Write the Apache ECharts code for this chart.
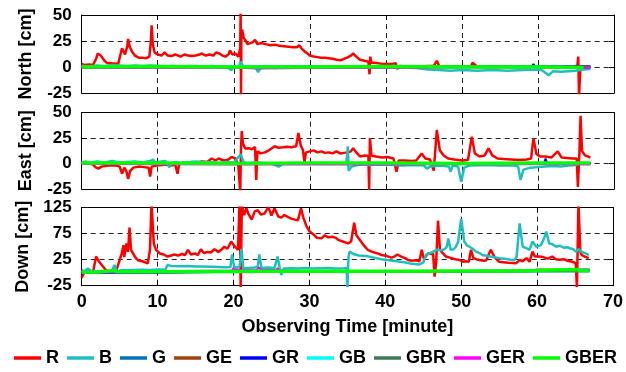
<!DOCTYPE html>
<html><head><meta charset="utf-8">
<script src="https://cdn.jsdelivr.net/npm/echarts@6/dist/echarts.min.js"></script>
<style>html,body{margin:0;padding:0;background:#fff}#c{width:626px;height:372px}</style>
</head><body><div id="c"></div>
<script>
// ---------- DATA ----------
const seriesNames = ['R','B','G','GE','GR','GB','GBR','GER','GBER'];
const xRange = [0, 70, 10];
const panelNames = ['North [cm]', 'East [cm]', 'Down [cm]'];
const yRanges = [[-25, 50, 25], [-25, 50, 25], [-25, 125, 50]];

// North
const N_R = [[0,3],[0.3,2],[1.0,2.5],[1.5,2],[1.9,8],[2.1,13],[2.5,11],[3.0,6],[3.3,4],[4.0,3.5],[4.8,3],[5.1,12],[5.3,18],[5.5,19],[5.7,12],[6.0,20],[6.1,27],[6.3,20],[6.6,15],[7.0,11],[7.5,9],[8.0,9],[8.5,8.5],[8.9,10],[9.1,25],[9.2,40],[9.35,22],[9.6,14],[10.0,12],[10.5,11],[10.9,14],[11.3,11],[11.8,10.5],[12.3,12],[12.7,11],[13.0,10],[13.5,12],[14.0,11],[14.5,10.5],[15.0,11],[15.5,12],[15.8,13],[16.3,11],[16.8,12],[17.3,11],[17.7,14],[18.1,13],[18.5,11],[18.9,10],[19.3,12],[19.5,16],[19.8,12],[20.2,13],[20.6,10],[20.85,18],[20.9,55],[20.95,-30],[21.0,30],[21.1,36],[21.3,28],[21.5,26],[21.8,22],[22.2,23],[22.5,24],[22.8,26],[23.1,22],[23.6,23],[24.2,22],[24.8,21],[25.4,21.5],[26.0,20.5],[26.6,20],[27.2,19.5],[27.8,19],[28.3,19],[28.6,21],[28.9,18],[29.3,15],[29.7,13],[30.0,11],[30.5,10],[31.0,9.5],[31.5,9],[32.0,9],[32.5,8.5],[33.0,8],[33.5,7],[34.0,6.5],[34.4,7.5],[34.9,9],[35.4,11],[35.7,13],[36.1,10],[36.6,7],[37.2,6],[37.7,5],[37.85,-7],[37.95,10],[38.1,4],[38.5,4],[39.0,3.5],[39.6,3],[40.2,3],[40.8,3],[41.3,3.5],[41.5,-2],[41.8,1],[42.5,0.5],[43.5,0],[44.5,0.5],[45.5,1],[46.3,1],[46.7,6],[47.0,1],[47.5,0.5],[48.5,0],[49.5,0],[50.5,0.5],[51.2,1],[51.4,4],[52,0.5],[53,0],[54,0],[55,0.5],[56,0],[57,0],[58,0],[59,0.5],[59.4,1],[60,0],[61,0],[62,0],[63,0],[64,0],[64.8,0],[65.2,2],[65.3,10],[65.4,-28],[65.6,1],[66,0.5],[66.5,0],[66.9,0]];
const N_B = [[0,1],[1,0.5],[2,1.5],[3,1],[4,2],[5,1.5],[6,1],[7,1.5],[8,1],[9,1.5],[10,1],[11,0.5],[12,1],[13,0.5],[14,1],[15,1],[16,0.5],[17,1],[18,0.5],[19,0.5],[19.7,-3],[20,0.5],[20.7,1],[20.9,5],[21.2,1],[22,0],[22.8,0.5],[23.2,-5],[23.6,0],[24.5,0.5],[25.5,-1],[26.5,0],[28,0.5],[30,0],[32,0.5],[34,0],[36,0.5],[38,0],[40,0.5],[42,-0.5],[44,-1],[45.5,-2.5],[47,-3],[48.5,-3.5],[50,-3],[52,-3.5],[54,-3],[56,-3.5],[58,-3],[59.5,-2.5],[60.5,-3],[61.4,-8],[62,-4],[63,-4.5],[64,-4],[65,-3.5],[66,-2.5],[66.9,-2]];
const N_G = [[0,-0.5],[5,0],[10,-0.5],[15,0],[20,-0.5],[21,0.5],[25,-0.5],[30,0],[35,-0.5],[40,0],[45,0.5],[50,0],[55,0.5],[59.4,1],[60,0.5],[65,0.5],[66.9,0]];
const N_GE = [[0,0.5],[10,0],[20,0.5],[30,0],[40,0],[50,0.5],[60,0.5],[66.9,0.5]];
const N_GR = [[0,0],[10,0.5],[20,0],[30,0.5],[40,0],[50,0.5],[59.2,0.5],[59.4,3],[59.6,0.5],[66.9,0.5]];
const N_GB = [[0,1],[10,0.5],[20,1],[30,0.5],[40,1],[50,0.5],[60,0.5],[66.9,0]];
const N_GBR = [[0,0.5],[20,0],[40,0.5],[66.9,0]];
const N_GER = [[0,-1],[10,-1],[20,-0.5],[23,-1.5],[30,-1],[40,-1],[50,-0.5],[60,-0.5],[66.9,-1]];
const N_GBER = [[0,0],[10,0.5],[20,0],[30,0],[40,0.5],[50,0],[60,0],[66,-0.5]];

// East
const E_R = [[0,0],[1.0,0],[1.5,-1],[1.8,-3.5],[2.2,-5],[2.6,-3],[3.5,-2],[4.5,-2],[5.0,-3],[5.3,-10],[5.6,-4],[5.9,-8],[6.1,-15],[6.4,-7],[6.8,-4],[7.5,-3],[8.2,-3.5],[8.8,-4],[9.0,-12.7],[9.2,-3],[9.8,-2],[10.5,-1.5],[11.2,-1],[11.8,-2],[12.3,-1],[12.6,-10],[12.8,-1],[13.3,1],[14,0.5],[14.5,1.5],[15.2,1],[15.8,2],[16.5,1.5],[17.1,5],[17.6,3],[18.0,5],[18.5,3.5],[18.9,3],[19.3,4],[19.7,6.5],[20.2,5],[20.6,-2],[20.85,-28],[20.95,15],[21.05,32],[21.2,20],[21.5,14.7],[22.0,15],[22.4,14],[22.8,16.3],[22.95,-16],[23.1,12],[23.5,10],[24.1,11],[24.6,13],[25.0,15],[25.4,17],[25.9,15.5],[26.5,16],[27.0,16.5],[27.6,16],[28.2,17],[28.5,30],[28.8,18],[29.1,13],[29.3,1.5],[29.5,11],[30.0,12],[30.5,13],[31.0,11],[31.5,12],[32,10.5],[32.5,11],[33,10],[33.5,12],[34,10],[34.5,10.5],[35.0,11],[35.4,12],[35.7,15],[36.1,11],[36.6,7],[37.2,8],[37.7,7.5],[37.8,-26],[37.9,25],[38.1,8],[38.7,7],[39.5,6],[40.2,6.5],[41.0,5],[41.4,-8],[41.7,3],[42.5,3],[43.3,2.5],[44.0,3],[44.7,10],[45.2,5],[45.8,4],[46.3,-7],[46.7,33],[47.1,13],[47.6,8],[48.2,5],[49,4],[50,3],[50.8,3.5],[51.3,26.5],[51.7,10],[52.3,7],[53,8],[53.5,15],[54,8],[54.7,5],[55.5,4.5],[56.5,4],[57.5,3.5],[58.5,4],[59.1,5],[59.4,25],[59.8,9.5],[60.3,7],[61,7],[61.8,6],[62.6,12],[63.1,6],[63.8,5.5],[64.5,5],[65.1,5],[65.25,-23],[65.45,10],[65.6,47],[65.8,12],[66.2,8],[66.9,6]];
const E_B = [[0,1],[0.5,2],[1,0.5],[2,2],[3,1],[4,2.5],[5,1],[6,1.5],[7,2],[8,1],[9,2.5],[9.4,4],[9.6,0.5],[10,1.5],[11,2.5],[11.5,-3.5],[12,1],[13,0.5],[14,1],[15,2],[16,1],[17,1.5],[18,0.5],[19,1.5],[20,1],[20.9,9],[21.3,1],[22,0.5],[23,1],[24,0.5],[25,0],[25.9,-3],[26.5,0],[28,0.5],[30,0],[32,0.5],[34,0],[34.8,0],[35.0,17],[35.1,-7],[35.5,-3],[36.5,-1],[38,-1.5],[40,-1],[42,-2],[44,-1.5],[45.0,-2],[45.4,-5],[45.8,-3],[47,-2],[48.3,-3],[48.5,-8],[48.8,-2],[49.5,-3],[49.9,-18],[50.3,-4],[51,-2],[53,-1.5],[55,-2],[57,-2],[57.4,-3],[57.7,-16],[58.1,-6],[59,-4],[60,-3.5],[61,-3],[62,-2.5],[63,-3],[64,-2],[65,-1.5],[65.4,0],[66.9,0]];
const E_G = [[0,0.5],[10,0],[20,0.5],[30,0],[40,0.5],[50,0],[60,0.5],[66.9,0]];
const E_GE = [[0,0],[20,0.5],[40,0],[60,0.5],[66.9,0.5]];
const E_GR = [[0,0],[20,0],[40,0.5],[60.8,0.5],[61,5],[61.2,0.5],[66.9,0.5]];
const E_GB = [[0,1],[20,0.5],[40,0.5],[66.9,0]];
const E_GBR = [[0,0.5],[30,0],[66.9,0]];
const E_GER = [[0,-0.5],[20,-1],[40,-1],[60,-0.5],[66.9,-1]];
const E_GBER = [[0,0.5],[10,0.5],[20,0],[30,0.5],[40,0.5],[50,0],[60,0.5],[66.9,0.5]];

// Down
const D_R = [[0,-10],[0.15,-5],[0.4,2],[1.0,1],[1.5,2],[1.9,31],[2.3,21],[2.8,12],[3.2,5],[3.6,2],[4.5,2],[5.0,24],[5.3,38],[5.5,53],[5.6,30],[5.9,56],[6.1,40],[6.3,87],[6.5,44],[7.0,31],[7.4,24],[8.0,22],[8.7,18],[9.0,44],[9.2,135],[9.5,56],[9.8,44],[10.3,37],[10.8,35],[11.3,31],[11.8,33],[12.2,35],[12.7,33],[13.2,36],[13.6,34],[14.0,44],[14.4,35],[14.9,37],[15.3,34],[15.7,45],[16.1,38],[16.6,40],[17.0,39],[17.5,45],[18.0,40],[18.4,44],[18.8,50],[19.2,46],[19.7,60],[20.1,51.5],[20.6,44],[20.8,135],[20.95,-30],[21.1,130],[21.4,111],[21.7,124],[22.0,112],[22.4,102],[22.8,118],[23.2,120],[23.6,112],[24.1,114],[24.6,126],[25.0,110],[25.4,124],[25.9,108],[26.3,106],[26.7,111],[27.2,107],[27.6,104],[28.1,102],[28.5,101],[28.9,124],[29.2,106],[29.6,90],[30.0,80],[30.5,74],[31.0,67],[31.6,66],[32.0,72],[32.5,68],[33.0,69],[33.5,67],[33.8,63],[34.4,60],[35.1,56.5],[35.5,60],[35.9,96],[36.2,72],[36.8,60],[37.2,52],[37.7,44],[38.3,40],[39.0,37],[39.5,34],[40.2,32],[40.8,29],[41.2,31],[41.6,35],[42.1,31],[42.6,28],[43.0,24.5],[43.5,23],[44.0,24],[44.5,22],[44.8,44],[45.1,26],[45.6,37],[46.0,36],[46.3,37],[46.5,-7.6],[46.7,20],[46.95,100],[47.2,45],[47.4,40.5],[48.0,31],[48.5,29],[49.2,26],[49.8,24.5],[50.2,21],[50.6,22],[51.0,21],[51.3,44],[51.6,28],[52.0,26],[52.4,24.5],[53.0,23],[53.3,24],[53.9,44],[54.4,30],[55.0,21],[55.6,20],[56.2,19],[56.8,18.5],[57.2,18],[57.7,24.5],[58.1,22],[58.6,28],[59.0,21],[59.4,40.5],[59.7,31],[60.3,31],[60.8,30],[61.4,27],[62.0,31],[62.5,26],[63.0,25],[63.5,26],[64.0,23],[64.7,21],[65.1,18],[65.25,-30],[65.45,135],[65.7,40],[65.9,34],[66.3,31],[66.8,28]];
const D_B = [[0,5],[0.4,3],[0.8,8],[1.2,4],[2,2.5],[3,3],[4,3],[4.3,15],[4.6,2],[5.2,5],[6,4.5],[7,5],[8,5.5],[9,5],[10,6],[11,5.5],[11.3,15],[11.8,13],[13,12.5],[14,13],[15,12],[16,12],[17,11.5],[18,11],[19,10.5],[19.6,11],[19.8,35],[20.1,11],[20.4,10],[20.8,12],[21.05,46],[21.3,8],[22,9],[22.8,10],[23.2,12],[23.4,35],[23.7,9],[24.5,10],[25.4,9],[25.8,31],[26.1,9],[26.3,-4.5],[26.6,8],[27.5,8.5],[28.5,8],[29.5,9],[30.5,8],[31.5,8.5],[32.5,9],[33.5,8],[34.5,8.5],[34.9,9],[35.0,-30],[35.15,30],[35.3,40.5],[35.8,36],[36.5,33],[37.5,32],[38.5,29],[39.5,26],[40.5,24],[41.5,22],[42.5,20],[43.5,17],[44.5,16],[45.0,20],[45.4,35],[45.8,37],[46.3,40],[46.7,44],[47.3,43],[47.8,45],[48.1,50],[48.3,66],[48.6,44],[49.0,45],[49.3,50],[49.6,60],[50.0,104],[50.4,60],[50.8,52],[51.1,50],[51.6,45],[52.0,40],[52.4,38],[52.8,34],[53.5,32],[54.2,30],[55.0,28],[55.8,27],[56.5,25],[57.0,24.5],[57.3,30],[57.7,95],[58.1,50],[58.6,47],[59.0,44],[59.4,60],[59.9,50],[60.5,53],[60.9,65],[61.2,79],[61.6,56],[62.0,55],[62.5,50],[63.0,52],[63.5,48],[64.0,49],[64.3,47],[64.8,45],[65.1,40.5],[65.5,45],[65.9,40],[66.4,37],[66.8,34]];
const D_G = [[0,1],[10,2],[20.3,2],[20.5,7],[20.7,2],[30,2],[40,2],[50,2],[60,3],[66.9,3]];
const D_GE = [[0,1],[30,2],[59,3],[60,6],[66.9,5]];
const D_GR = [[0,0],[10.4,0],[10.6,-2],[10.8,0],[20,2],[30,2],[60,4],[66.9,6]];
const D_GB = [[0,2],[30,2.5],[66.9,3]];
const D_GBR = [[0,1],[30,2],[66.9,3]];
const D_GER = [[0,2],[10,3],[19.8,4],[20,9],[20.3,4.5],[23,5],[23.4,10],[23.7,5],[25.6,5],[25.8,9],[26,4],[30,3],[40,3],[50,3],[60,4],[61,5],[66.9,5]];
const D_GBER = [[0,1],[2,1.5],[4.3,4],[4.6,2],[10,2],[19.9,2.5],[20.0,6],[20.3,2.5],[23.3,3],[23.4,6],[23.6,3],[25.7,3],[25.8,6],[26,3],[30,3],[40,3],[50,3.5],[55,3.5],[60,4],[61,4.5],[65.3,6],[65.6,4],[66.9,4]];

const panelData = [
  [N_R, N_B, N_G, N_GE, N_GR, N_GB, N_GBR, N_GER, N_GBER],
  [E_R, E_B, E_G, E_GE, E_GR, E_GB, E_GBR, E_GER, E_GBER],
  [D_R, D_B, D_G, D_GE, D_GR, D_GB, D_GBR, D_GER, D_GBER]
];

// ---------- STYLE ----------
const colors = ['#ff0000','#1fbfbf','#0072bd','#a2420d','#0000ff','#00ffff','#3c7a5a','#ff00ff','#00ff00'];
const widths = [2.5, 2.5, 2, 2, 2, 2, 2, 2, 3.5];
const FONT = "'Liberation Sans', Arial, sans-serif";
const gridBoxes = [{top:15, height:78}, {top:112.7, height:76.3}, {top:207.7, height:78}];
const gridLeft = 81.7, gridWidth = 532.3;

const grid = [], xAxis = [], yAxis = [], series = [];
const dash = {show:true, lineStyle:{color:'#222', type:[5,4], width:1}};
const axLine = {show:true, onZero:false, lineStyle:{color:'#000', width:1}};
const tick = {show:true, inside:true, length:5, lineStyle:{color:'#000'}};

gridBoxes.forEach((g, i) => {
  grid.push({left:gridLeft, top:g.top, width:gridWidth, height:g.height, containLabel:false});
  const last = i === 2;
  xAxis.push({
    gridIndex:i, type:'value', min:xRange[0], max:xRange[1], interval:xRange[2],
    axisLine:axLine, axisTick:tick, splitLine:dash,
    axisLabel:{show:last, color:'#000', fontWeight:'bold', fontSize:18, fontFamily:FONT, margin:7},
    name: last ? 'Observing Time [minute]' : '', nameLocation:'middle', nameGap:32,
    nameTextStyle:{color:'#000', fontWeight:'bold', fontSize:18, fontFamily:FONT}
  });
  xAxis.push({
    gridIndex:i, type:'value', position:'top', min:xRange[0], max:xRange[1], interval:xRange[2],
    axisLine:axLine, axisTick:tick, splitLine:{show:false}, axisLabel:{show:false}
  });
  const yr = yRanges[i];
  yAxis.push({
    gridIndex:i, type:'value', min:yr[0], max:yr[1], interval:yr[2],
    axisLine:axLine, axisTick:tick, splitLine:dash,
    axisLabel:{color:'#000', fontWeight:'bold', fontSize:17, fontFamily:FONT, margin:10},
    name:panelNames[i], nameLocation:'middle', nameGap:47, nameRotate:90,
    nameTextStyle:{color:'#000', fontWeight:'bold', fontSize:18, fontFamily:FONT}
  });
  yAxis.push({
    gridIndex:i, type:'value', position:'right', min:yr[0], max:yr[1], interval:yr[2],
    axisLine:axLine, axisTick:tick, splitLine:{show:false}, axisLabel:{show:false}
  });
  panelData[i].forEach((d, k) => {
    series.push({
      name:seriesNames[k], type:'line', xAxisIndex:2*i, yAxisIndex:2*i,
      data:d, showSymbol:false, symbol:'none', clip:true,
      lineStyle:{color:colors[k], width:widths[k]}, itemStyle:{color:colors[k]},
      emphasis:{disabled:true}
    });
  });
});

const chart = echarts.init(document.getElementById('c'), null, {renderer:'canvas'});
chart.setOption({
  animation:false,
  backgroundColor:'#fff',
  grid, xAxis, yAxis, series,
  legend:{
    data:seriesNames.map(n => ({name:n, icon:'rect'})),
    left:14, top:349, width:612, itemWidth:27, itemHeight:3.5, itemGap:8,
    padding:0,
    textStyle:{color:'#000', fontWeight:'bold', fontSize:18, fontFamily:FONT},
    selectedMode:false
  }
});
</script></body></html>
